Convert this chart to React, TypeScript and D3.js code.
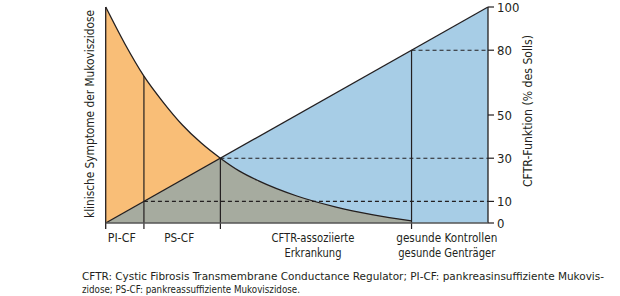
import React from "react";
import * as d3 from "d3";

// CFTR function (% of normal) along the x axis; symptom severity curve
const symptomX = [0, 5, 10, 15, 20, 25, 30, 35, 40, 50, 60, 70, 80];
const symptomY = [100, 83, 68, 56, 45.5, 37, 30, 24, 19.5, 12.5, 7.5, 3.8, 1];
const cftrTicks = [0, 10, 30, 50, 80, 100];
const boundaries = [0, 10, 30, 80, 100];
const groupLabels = [["PI-CF"], ["PS-CF"], ["CFTR-assoziierte", "Erkrankung"], ["gesunde Kontrollen", "gesunde Genträger"]];
const dashedLevels = [10, 30, 80];
const leftTitle = "klinische Symptome der Mukoviszidose";
const rightTitle = "CFTR-Funktion (% des Solls)";
const footnote = [
  "CFTR: Cystic Fibrosis Transmembrane Conductance Regulator; PI-CF: pankreasinsuffiziente Mukovis-",
  "zidose; PS-CF: pankreassuffiziente Mukoviszidose.",
];

// layout: rendered widths of the condensed reference typeface
const groupLabelWidths = [[28], [30], [83, 57], [101, 97]];
const footnoteWidths = [522, 218];

const FONT = "'Liberation Sans Narrow', 'DejaVu Sans Condensed', 'Open Sans', sans-serif";
const INK = "#231f20";

export default function App() {
  const x = d3.scaleLinear().domain([0, 100]).range([105.7, 488]);
  const y = d3.scaleLinear().domain([0, 100]).range([223, 7]);

  const pts: [number, number][] = symptomX.map((v, i) => [v, symptomY[i]]);
  const sym = (v: number) => symptomY[symptomX.indexOf(v)];

  const area = d3
    .area<[number, number]>()
    .x((d) => x(d[0]))
    .y0(y(0))
    .y1((d) => y(d[1]))
    .curve(d3.curveMonotoneX);
  const line = d3
    .line<[number, number]>()
    .x((d) => x(d[0]))
    .y((d) => y(d[1]))
    .curve(d3.curveMonotoneX);

  const tri = `M${x(0)},${y(0)}L${x(100)},${y(100)}L${x(100)},${y(0)}Z`;

  return (
    <svg width={620} height={296} style={{ position: "absolute", left: 0, top: 0, background: "#fff" }}>
      <defs>
        <clipPath id="triClip">
          <path d={tri} />
        </clipPath>
      </defs>
      {/* fills */}
      <path d={tri} fill="#a7cde6" />
      <path d={area(pts) || ""} fill="#f9be77" />
      <path d={area(pts) || ""} fill="#a6ab9f" clipPath="url(#triClip)" />

      {/* dashed reference lines */}
      {dashedLevels.map((lv) => (
        <line key={lv} x1={x(lv)} x2={x(100)} y1={y(lv)} y2={y(lv)} stroke={INK} strokeWidth={1.1} strokeDasharray="4,3" />
      ))}

      {/* curves */}
      <path d={line(pts) || ""} fill="none" stroke={INK} strokeWidth={1.3} />
      <line x1={x(0)} y1={y(0)} x2={x(100)} y2={y(100)} stroke={INK} strokeWidth={1.3} />

      {/* vertical dividers */}
      <line x1={x(0)} x2={x(0)} y1={y(0) + 6} y2={y(100)} stroke={INK} strokeWidth={1.3} />
      <line x1={x(10)} x2={x(10)} y1={y(0) + 6} y2={y(sym(10))} stroke={INK} strokeWidth={1.2} />
      <line x1={x(30)} x2={x(30)} y1={y(0) + 6} y2={y(30)} stroke={INK} strokeWidth={1.2} />
      <line x1={x(80)} x2={x(80)} y1={y(0) + 6} y2={y(80)} stroke={INK} strokeWidth={1.2} />
      <line x1={x(100)} x2={x(100)} y1={y(0)} y2={y(100)} stroke={INK} strokeWidth={1.3} />
      {/* baseline */}
      <line x1={x(0)} x2={x(100)} y1={y(0)} y2={y(0)} stroke="#555" strokeWidth={1.3} />

      {/* right axis ticks */}
      {cftrTicks.map((t) => (
        <g key={t}>
          <line x1={x(100)} x2={x(100) + 6} y1={y(t)} y2={y(t)} stroke={INK} strokeWidth={1.2} />
          <text x={x(100) + 9} y={y(t)} dy="0.36em" fontFamily={FONT} fontSize={13} fill={INK}>
            {t}
          </text>
        </g>
      ))}

      {/* group labels */}
      {groupLabels.map((lines, i) => {
        const cx = (x(boundaries[i]) + x(boundaries[i + 1])) / 2 - 3;
        return lines.map((l, j) => (
          <text
            key={`${i}-${j}`}
            x={cx - groupLabelWidths[i][j] / 2}
            y={242 + j * 15}
            textLength={groupLabelWidths[i][j]}
            lengthAdjust="spacingAndGlyphs"
            fontFamily={FONT}
            fontSize={13}
            fill={INK}
          >
            {l}
          </text>
        ));
      })}

      {/* axis titles */}
      <text
        transform={`translate(94,218) rotate(-90)`}
        textLength={208}
        lengthAdjust="spacingAndGlyphs"
        fontFamily={FONT}
        fontSize={13}
        fill={INK}
      >
        {leftTitle}
      </text>
      <text
        transform={`translate(532,187) rotate(-90)`}
        textLength={152}
        lengthAdjust="spacingAndGlyphs"
        fontFamily={FONT}
        fontSize={13}
        fill={INK}
      >
        {rightTitle}
      </text>

      {/* footnote */}
      {footnote.map((f, i) => (
        <text
          key={i}
          x={82}
          y={280 + i * 13}
          textLength={footnoteWidths[i]}
          lengthAdjust="spacingAndGlyphs"
          fontFamily={FONT}
          fontSize={11}
          fill={INK}
        >
          {f}
        </text>
      ))}
    </svg>
  );
}
